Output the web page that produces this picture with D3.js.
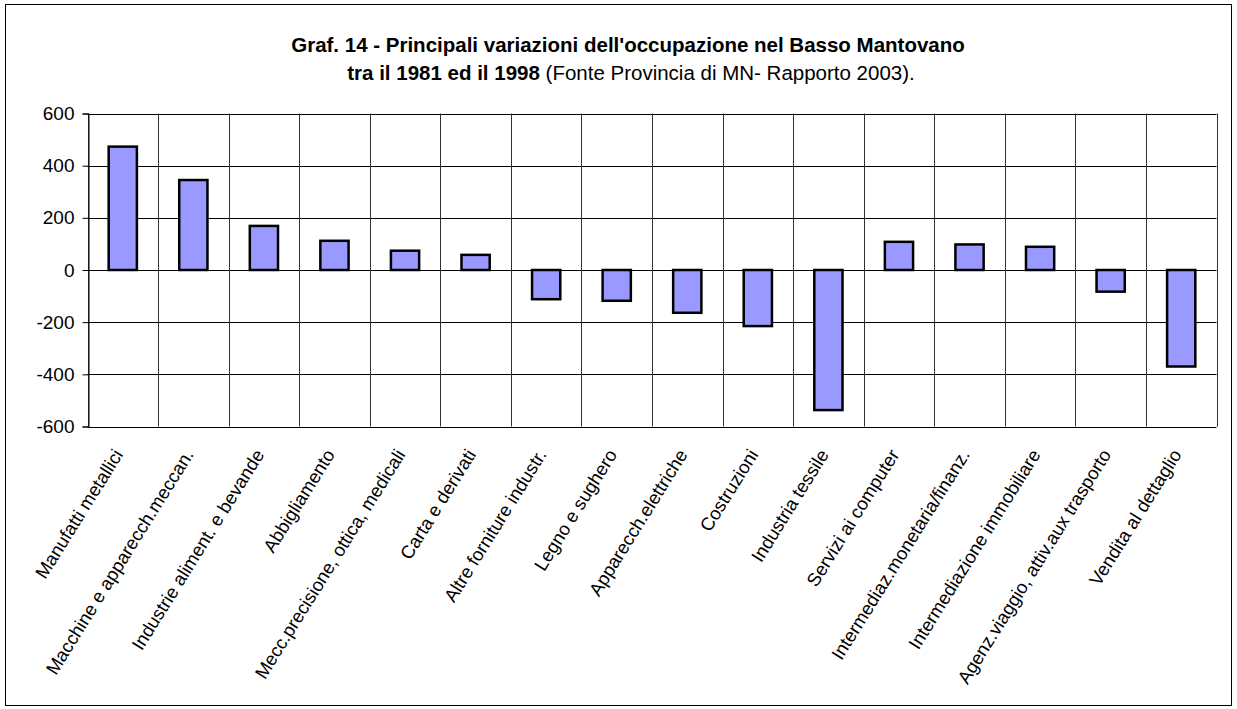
<!DOCTYPE html>
<html><head><meta charset="utf-8">
<script src="https://cdn.jsdelivr.net/npm/d3@7/dist/d3.min.js"></script>
<style>body{margin:0;background:#fff;} svg{display:block;} text{font-family:"Liberation Sans",Arial,sans-serif;}</style>
</head><body>
<svg id="chart" width="1237" height="709"></svg>
<script>
const categories = ["Manufatti metallici","Macchine e apparecch.meccan.","Industrie aliment. e bevande","Abbigliamento","Mecc.precisione, ottica, medicali","Carta e derivati","Altre forniture industr.","Legno e sughero","Apparecch.elettriche","Costruzioni","Industria tessile","Servizi ai computer","Intermediaz.monetaria/finanz.","Intermediazione immobiliare","Agenz.viaggio, attiv.aux trasporto","Vendita al dettaglio"];
const values = [473, 345, 169, 112, 74, 58, -112, -118, -164, -215, -537, 108, 98, 89, -83, -370];
const yTicks = [-600, -400, -200, 0, 200, 400, 600];
const titleLine1 = "Graf. 14 - Principali variazioni dell'occupazione nel Basso Mantovano";
const titleLine2Bold = "tra il 1981 ed il 1998";
const titleLine2Normal = " (Fonte Provincia di MN- Rapporto 2003).";

const svg = d3.select("#chart");
const m = {left: 87.5, right: 1216.5, top: 113.5, bottom: 426.5};

svg.append("rect").attr("x",5.5).attr("y",4.5).attr("width",1226).attr("height",701)
  .attr("fill","#fff").attr("stroke","#000").attr("stroke-width",1);

const x = d3.scaleBand().domain(categories).range([m.left, m.right]).padding(0);
const y = d3.scaleLinear().domain([-600, 600]).range([m.bottom, m.top]);

// horizontal gridlines
svg.append("g").selectAll("line").data(yTicks).join("line")
  .attr("x1", m.left).attr("x2", m.right)
  .attr("y1", d => Math.round(y(d))+0.5).attr("y2", d => Math.round(y(d))+0.5)
  .attr("stroke", "#000").attr("stroke-width", 1);

// vertical gridlines
const bounds = categories.map(c => x(c)).concat([m.right]);
svg.append("g").selectAll("line").data(bounds).join("line")
  .attr("x1", d => Math.round(d)+0.5).attr("x2", d => Math.round(d)+0.5)
  .attr("y1", m.top).attr("y2", m.bottom)
  .attr("stroke", "#333").attr("stroke-width", 1);

// y axis
const yAxis = d3.axisLeft(y).tickValues(yTicks).tickSize(6).tickPadding(8).tickFormat(d => String(d));
const gy = svg.append("g").attr("transform", `translate(${Math.round(m.left)+0.5},0)`).call(yAxis);
gy.select(".domain").attr("stroke","#000");
gy.selectAll(".tick line").attr("stroke","#000");
gy.selectAll(".tick text").attr("font-size", 19).attr("fill","#000")
  .attr("font-family", '"Liberation Sans",Arial,sans-serif');

// bars
const bw = x.bandwidth() * 0.4;
svg.append("g").selectAll("rect").data(values).join("rect")
  .attr("x", (d,i) => x(categories[i]) + x.bandwidth()/2 - bw/2)
  .attr("y", d => y(Math.max(0, d)))
  .attr("width", bw)
  .attr("height", d => Math.abs(y(d) - y(0)))
  .attr("fill", "#9999FF").attr("stroke", "#000").attr("stroke-width", 2.5);

// category labels
svg.append("g").selectAll("text").data(categories).join("text")
  .attr("transform", d => `translate(${x(d) + x.bandwidth()/2 + 1},${m.bottom + 28}) rotate(-58)`)
  .attr("text-anchor", "end")
  .attr("font-size", 18.5)
  .attr("fill", "#000")
  .text(d => d);

// title
const cx = 628;
svg.append("text").attr("x", cx).attr("y", 52).attr("text-anchor","middle")
  .attr("font-size", 20.5).attr("font-weight","bold").attr("fill","#000").text(titleLine1);
const t2 = svg.append("text").attr("x", cx + 3).attr("y", 80).attr("text-anchor","middle")
  .attr("font-size", 20.5).attr("fill","#000");
t2.append("tspan").attr("font-weight","bold").text(titleLine2Bold);
t2.append("tspan").text(titleLine2Normal);
</script>
</body></html>
